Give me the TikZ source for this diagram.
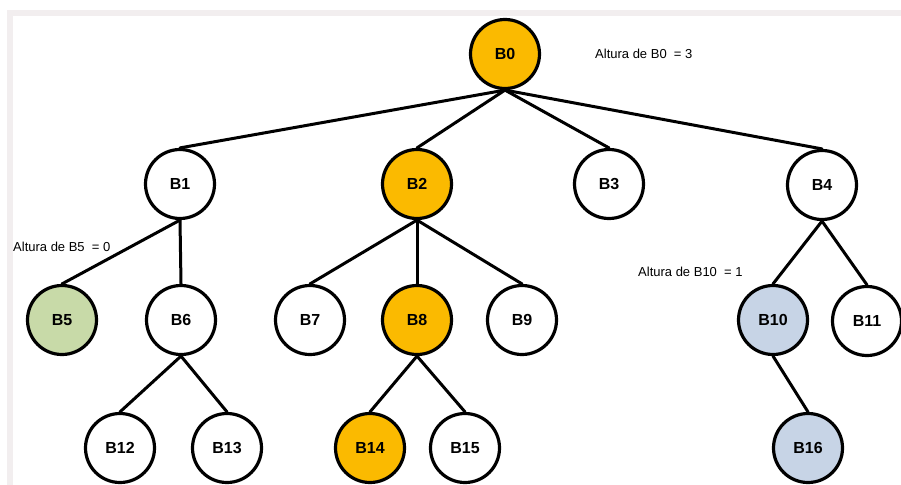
\documentclass[tikz,border=0pt]{standalone}
\usepackage{fontspec}
\setmainfont{Liberation Sans}
\definecolor{hlorange}{RGB}{251,186,0}
\definecolor{hlgreen}{RGB}{200,218,168}
\definecolor{hlblue}{RGB}{199,212,230}
\definecolor{framegray}{RGB}{242,238,239}
\begin{document}
\begin{tikzpicture}[x=1pt,y=-1pt,
  treenode/.style={circle,draw=black,line width=3.2pt,fill=white,
    minimum size=69pt,inner sep=0pt,font=\fontsize{16}{16}\selectfont\bfseries},
  orangenode/.style={treenode,fill=hlorange},
  greennode/.style={treenode,fill=hlgreen},
  bluenode/.style={treenode,fill=hlblue},
  edge/.style={line width=3pt,line cap=round},
  note/.style={anchor=west,inner sep=0pt,font=\fontsize{13}{13}\selectfont}]
\useasboundingbox (0,0) rectangle (901,484);
\fill[white] (0,0) rectangle (901,484);
% thin grey frame along the top and left edges
\draw[framegray,line width=6pt] (9.5,500) -- (9.5,13) -- (920,13);

% root
\node[orangenode] (B0) at (505,54) {B0};
% level 1
\node[treenode]   (B1) at (180,184) {B1};
\node[orangenode] (B2) at (417,184) {B2};
\node[treenode]   (B3) at (609,184) {B3};
\node[treenode]   (B4) at (822,185) {B4};
% level 2
\node[greennode]  (B5)  at (62,320)  {B5};
\node[treenode]   (B6)  at (181,320) {B6};
\node[treenode]   (B7)  at (310,320) {B7};
\node[orangenode] (B8)  at (417,320) {B8};
\node[treenode]   (B9)  at (522,320) {B9};
\node[bluenode]   (B10) at (773,320) {B10};
\node[treenode]   (B11) at (867,321) {B11};
% level 3
\node[treenode]   (B12) at (120,448) {B12};
\node[treenode]   (B13) at (227,448) {B13};
\node[orangenode] (B14) at (370,448) {B14};
\node[treenode]   (B15) at (465,448) {B15};
\node[bluenode]   (B16) at (808,448) {B16};

% connectors: parent bottom to child top
\foreach \p/\c in {B0/B1,B0/B2,B0/B3,B0/B4,B1/B5,B1/B6,B2/B7,B2/B8,B2/B9,
                   B4/B10,B4/B11,B6/B12,B6/B13,B8/B14,B8/B15,B10/B16}
  \draw[edge] (\p.south) -- (\c.north);

% height annotations
\node[note] (h0)  at (595,54)  {Altura de B0\ \ = 3};
\node[note] (h5)  at (13,247)  {Altura de B5\ \ = 0};
\node[note] (h10) at (638,272) {Altura de B10\ \ = 1};
\end{tikzpicture}
\end{document}
